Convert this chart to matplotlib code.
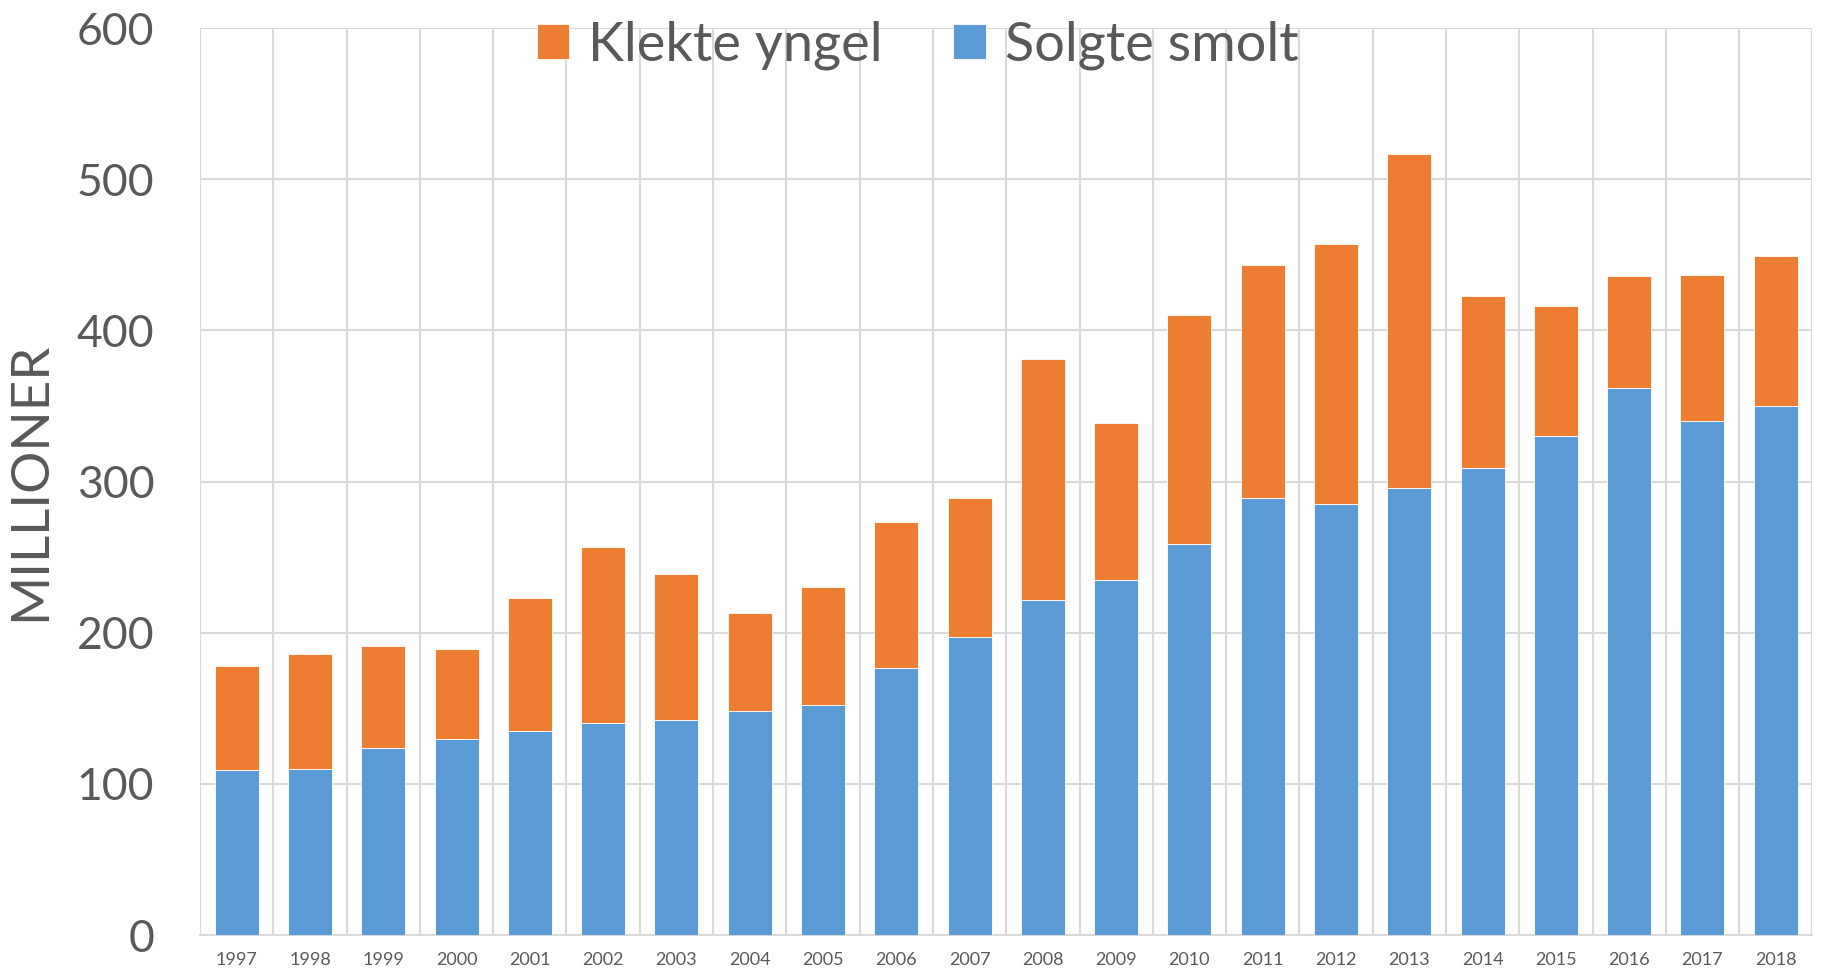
import matplotlib.pyplot as plt
import numpy as np

# Verdier lest av figuren (millioner)
years = [str(y) for y in range(1997, 2019)]
solgte_smolt = [109, 110, 124, 130, 135, 140, 142, 148, 152, 177, 197,
                222, 235, 259, 289, 285, 296, 309, 330, 362, 340, 350]
totalt = [178, 186, 191, 189, 223, 257, 239, 213, 230, 273, 289,
          381, 339, 410, 443, 457, 517, 423, 416, 436, 437, 449]
klekte_yngel = [t - s for t, s in zip(totalt, solgte_smolt)]

ORANGE = '#ED7D31'
BLUE = '#5B9BD5'
GREY = '#595959'
GRID = '#D9D9D9'

plt.rcParams['font.family'] = ['Lato', 'DejaVu Sans']

fig = plt.figure(figsize=(18.27, 9.71), dpi=100)
ax = fig.add_axes([0.1095, 0.037, 0.8825, 0.934])

x = np.arange(len(years))
ax.bar(x, solgte_smolt, width=0.6, color=BLUE, edgecolor='white', linewidth=0.6,
       label='Solgte smolt', zorder=3)
ax.bar(x, klekte_yngel, width=0.6, bottom=solgte_smolt, color=ORANGE,
       edgecolor='white', linewidth=0.6, label='Klekte yngel', zorder=3)

ax.set_xlim(-0.5, len(years) - 0.5)
ax.set_ylim(0, 600)
ax.set_yticks(range(0, 601, 100))
ax.set_xticks(x)
ax.set_xticklabels(years)

# gridlinjer: horisontale på verdiene, vertikale mellom kategoriene
for yv in range(100, 601, 100):
    ax.axhline(yv, color=GRID, lw=1.5, zorder=1)
for xv in np.arange(-0.5, len(years), 1.0):
    ax.axvline(xv, color=GRID, lw=1.5, zorder=1)

for side in ['top', 'right', 'left']:
    ax.spines[side].set_visible(False)
ax.spines['bottom'].set_color(GRID)
ax.spines['bottom'].set_linewidth(1.5)

ax.tick_params(axis='y', length=0, labelsize=32, labelcolor=GREY, pad=33)
ax.tick_params(axis='x', length=0, labelsize=13, labelcolor=GREY, pad=12)

ax.set_ylabel('MILLIONER', fontsize=38, color=GREY, labelpad=16)

handles, labels = ax.get_legend_handles_labels()
leg = ax.legend(handles[::-1], labels[::-1], loc='upper center',
                bbox_to_anchor=(0.445, 1.062), ncol=2, frameon=False,
                fontsize=39, handlelength=0.6, handleheight=0.6,
                handletextpad=0.35, columnspacing=1.3, labelcolor=GREY)
leg.set_zorder(5)

fig.savefig('out.png', dpi=100, facecolor='white')
